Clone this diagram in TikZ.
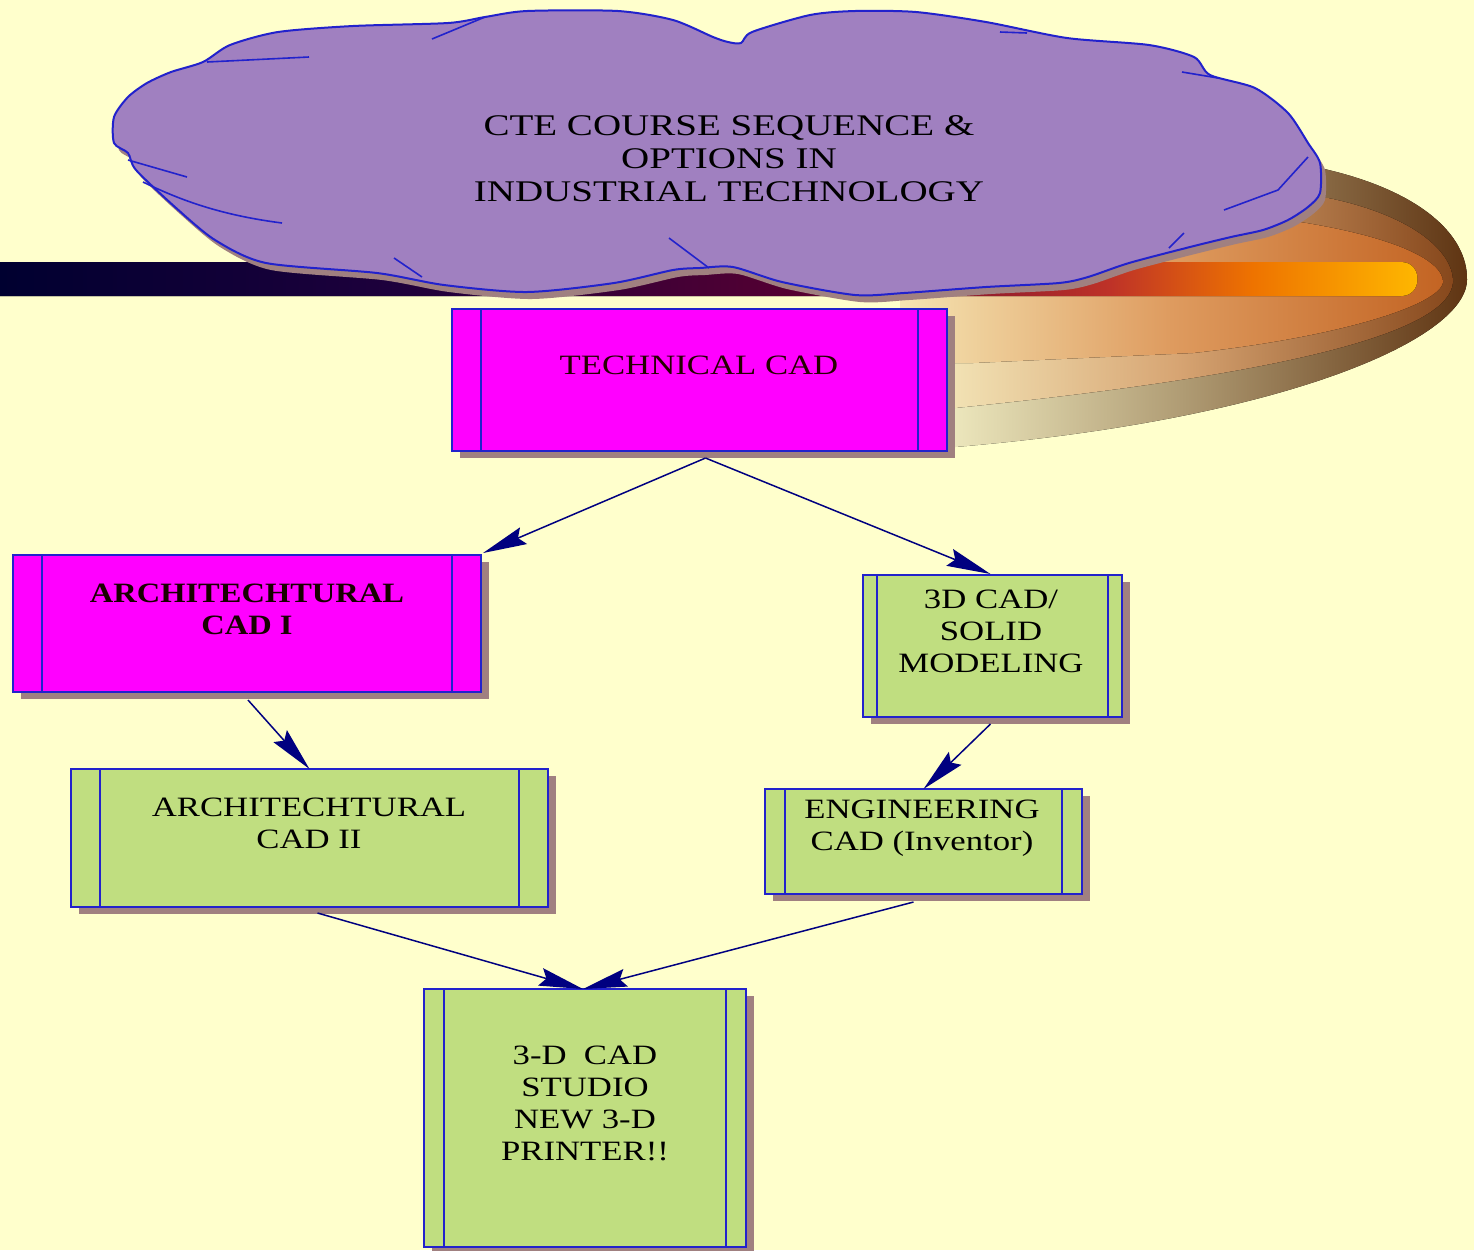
\documentclass[tikz,border=0pt]{standalone}
\usepackage{fontspec}
\setmainfont{Liberation Serif}
\newfontfamily\boxfont[FakeStretch=1.24]{Liberation Serif}
\newfontfamily\boldboxfont[FakeStretch=1.16]{Liberation Serif}
\newfontfamily\cloudfont[FakeStretch=1.3]{Liberation Serif}
\usetikzlibrary{arrows.meta,shadows,calc}
\definecolor{bg}{RGB}{255,255,204}
\definecolor{boxblue}{RGB}{34,34,204}
\definecolor{mag}{RGB}{255,0,255}
\definecolor{grn}{RGB}{192,222,128}
\definecolor{shad}{RGB}{160,128,128}
\definecolor{cloudfill}{RGB}{160,128,192}
\definecolor{arrowc}{RGB}{0,0,128}
\definecolor{bar0}{RGB}{0,0,48}
\definecolor{bar1}{RGB}{30,0,60}
\definecolor{bar2}{RGB}{85,0,50}
\definecolor{bar3}{RGB}{190,50,40}
\definecolor{bar4}{RGB}{238,115,0}
\definecolor{bar5}{RGB}{255,185,0}
\pgfdeclarehorizontalshading{barshade}{100bp}{color(0bp)=(bar0); color(25bp)=(bar0); color(39bp)=(bar1); color(53bp)=(bar2); color(64bp)=(bar3); color(69bp)=(bar4); color(75bp)=(bar5); color(100bp)=(bar5)}
\definecolor{oL}{RGB}{250,248,205}
\definecolor{oM}{RGB}{175,155,115}
\definecolor{oR}{RGB}{95,52,18}
\definecolor{mL}{RGB}{248,240,195}
\definecolor{mM}{RGB}{215,165,115}
\definecolor{mR}{RGB}{135,72,28}
\definecolor{iL}{RGB}{245,228,178}
\definecolor{iM}{RGB}{222,155,95}
\definecolor{iR}{RGB}{195,100,35}
\tikzset{
  cbox/.style={draw=boxblue, line width=1.2pt, inner sep=0pt, outer sep=0pt,
    drop shadow={shadow xshift=4pt, shadow yshift=-3.5pt, fill=shad, opacity=1}},
  sidelines/.style={path picture={
    \draw[boxblue, line width=1.2pt] ([xshift=#1]path picture bounding box.north west) -- ([xshift=#1]path picture bounding box.south west);
    \draw[boxblue, line width=1.2pt] ([xshift=-#1]path picture bounding box.north east) -- ([xshift=-#1]path picture bounding box.south east);}},
  txt/.style={align=center, inner sep=0pt, text=black, font=\boxfont\fontsize{14}{16}\selectfont},
  btxt/.style={align=center, inner sep=0pt, text=black!90!red, font=\boldboxfont\bfseries\fontsize{14}{16}\selectfont},
  conn/.style={draw=arrowc, line width=0.75pt, -{Stealth[length=22pt,width=9pt,inset=3pt]}},
  cloudline/.style={draw=boxblue, line width=0.8pt}
}
\begin{document}
\begin{tikzpicture}[x=0.5pt,y=-0.5pt]
\useasboundingbox (0,0) rectangle (1474,1250);
\fill[bg] (0,0) rectangle (1474,1250);
% swoosh
\fill[left color=oL, right color=oR, middle color=oM] (900,300) -- (900,170) -- (1320,168) .. controls (1420,190) and (1468,235) .. (1467,280) .. controls (1466,340) and (1280,420) .. (955,447) -- (900,447) -- cycle;
\fill[left color=mL, right color=mR, middle color=mM] (900,300) -- (900,196) -- (1328,198) .. controls (1410,215) and (1453,250) .. (1453,282) .. controls (1450,325) and (1330,370) .. (955,408) -- (900,408) -- cycle;
\fill[left color=iL, right color=iR, middle color=iM] (900,300) -- (900,220) -- (1300,222) .. controls (1400,238) and (1443,262) .. (1443,282) .. controls (1440,305) and (1339,337) .. (1193,353) -- (973,363) -- (900,363) -- cycle;
% bar
\fill[shading=barshade] (0,262) -- (1401,262) .. controls (1423,262) and (1423,296) .. (1401,296) -- (0,296) -- cycle;
% cloud
\def\cloudpts{(114,143) (114,117) (128,97) (147,83) (171,72) (203,62) (230,45) (278,32) (353,26) (448,23) (485,17) (527,11) (618,11) (673,20) (713,37) (728,42) (741,43) (752,32) (810,15) (855,11) (916,12) (986,22) (1067,38) (1149,45) (1194,57) (1210,75) (1255,88) (1288,113) (1308,143) (1320,163) (1320,193) (1308,207) (1288,220) (1263,230) (1231,237) (1190,247) (1129,263) (1088,277) (1059,283) (986,287) (904,293) (855,295) (782,282) (733,267) (700,268) (673,270) (614,283) (527,292) (444,285) (377,273) (266,263) (215,240) (175,207) (136,170) (128,153)}
\begin{scope}[shift={(5,7)}]
\fill[shad] plot[smooth cycle, tension=0.45] coordinates \cloudpts;
\end{scope}
\path[fill=cloudfill, draw=boxblue, line width=1pt] plot[smooth cycle, tension=0.45] coordinates \cloudpts;
\draw[cloudline] (207,62) -- (309,57);
\draw[cloudline] (432,39) -- (485,17);
\draw[cloudline] (128,160) -- (187,177);
\draw[cloudline] (143,182) .. controls (180,200) and (220,215) .. (282,223);
\draw[cloudline] (394,258) -- (422,277);
\draw[cloudline] (669,238) -- (709,268);
\draw[cloudline] (1000,32) -- (1027,33);
\draw[cloudline] (1182,72) -- (1218,78);
\draw[cloudline] (1308,157) -- (1278,190) -- (1224,210);
\draw[cloudline] (1184,233) -- (1169,248);
\node[align=center, inner sep=0pt, font=\cloudfont\fontsize{15}{16.5}\selectfont] (title) at (729,159) {CTE COURSE SEQUENCE \&\\OPTIONS IN\\INDUSTRIAL TECHNOLOGY};
% boxes
\node[cbox, fill=mag, sidelines=14.5pt, minimum width=247.5pt, minimum height=71pt] (tech) at (699.5,380) {};
\node[cbox, fill=mag, sidelines=14.5pt, minimum width=234pt, minimum height=68.5pt] (cad1) at (247,623.5) {};
\node[cbox, fill=grn, sidelines=14.5pt, minimum width=238.5pt, minimum height=69pt] (cad2) at (309.5,838) {};
\node[cbox, fill=grn, sidelines=7pt, minimum width=129.5pt, minimum height=71pt] (solid) at (992.5,646) {};
\node[cbox, fill=grn, sidelines=10pt, minimum width=158.5pt, minimum height=52.5pt] (eng) at (923.5,841.5) {};
\node[cbox, fill=grn, sidelines=10pt, minimum width=161pt, minimum height=129pt] (studio) at (585,1118) {};
% texts
\node[txt, text=black!85!red] (techt) at (699,365) {TECHNICAL CAD};
\node[btxt] (cad1t) at (247,609) {ARCHITECHTURAL\\CAD I};
\node[txt] (cad2t) at (309,823) {ARCHITECHTURAL\\CAD II};
\node[txt] (solidt) at (991,631) {3D CAD/\\SOLID\\MODELING};
\node[txt] (engt) at (922,828) {ENGINEERING\\CAD (Inventor)};
\node[txt] (studiot) at (585,1103) {3-D\ \ CAD\\STUDIO\\NEW 3-D\\PRINTER!!};
% connectors
\draw[conn] ($(tech.south)+(6,7)$) -- ([xshift=1pt,yshift=1pt]cad1.north east);
\draw[conn] ($(tech.south)+(6,7)$) -- ($(solid.north)+(-2,-1)$);
\draw[conn] ($(cad1.south)+(1,8)$) -- (cad2.north);
\draw[conn] ($(solid.south)+(-2,7)$) -- (eng.north);
\draw[conn] ($(cad2.south)+(8,6)$) -- ($(studio.north)+(-2,0)$);
\draw[conn] ($(eng.south)+(-10,8)$) -- ($(studio.north)+(-2,0)$);
\end{tikzpicture}
\end{document}
